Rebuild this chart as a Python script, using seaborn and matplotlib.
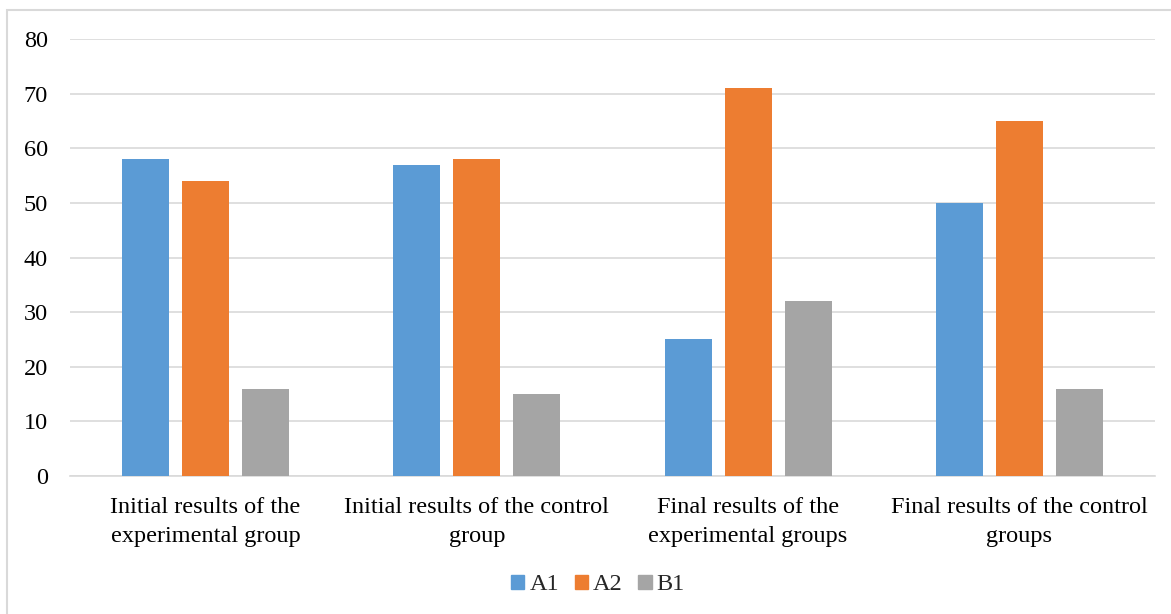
import matplotlib
matplotlib.use("Agg")
import matplotlib.pyplot as plt
import seaborn as sns
import pandas as pd
from matplotlib.patches import Rectangle

categories = [
    "Initial results of the\nexperimental group",
    "Initial results of the control\ngroup",
    "Final results of the\nexperimental groups",
    "Final results of the control\ngroups",
]
series = ["A1", "A2", "B1"]
a1 = [58, 57, 25, 50]
a2 = [54, 58, 71, 65]
b1 = [16, 15, 32, 16]
yticks = [0, 10, 20, 30, 40, 50, 60, 70, 80]

df = pd.DataFrame({
    "category": categories * 3,
    "series": [s for s in series for _ in categories],
    "value": a1 + a2 + b1,
})

sns.set_theme(style="white")
plt.rcParams["font.family"] = ["Liberation Serif", "DejaVu Serif"]

W, H = 1171, 614
fig = plt.figure(figsize=(W / 100, H / 100), dpi=100)
ax = fig.add_axes([70 / W, 1 - 476 / H, (1155 - 70) / W, (476 - 39) / H])

palette = {"A1": "#5B9BD5", "A2": "#ED7D31", "B1": "#A5A5A5"}
sns.barplot(data=df, x="category", y="value", hue="series", hue_order=series,
            palette=palette, width=0.664, gap=0.22, saturation=1, linewidth=0,
            order=categories, ax=ax, legend=False, zorder=3)

ax.set_ylim(0, 80)
ax.set_yticks(yticks)
ax.set_yticklabels([str(t) for t in yticks])
ax.set_xlim(-0.5, len(categories) - 0.5)
ax.grid(axis="y", color="#D9D9D9", linewidth=1.2, zorder=0)
ax.grid(axis="x", visible=False)
for side in ["left", "right", "top"]:
    ax.spines[side].set_visible(False)
ax.spines["bottom"].set_color("#D9D9D9")
ax.spines["bottom"].set_linewidth(1.2)
ax.tick_params(axis="both", length=0, labelsize=17.5, colors="black")
ax.tick_params(axis="y", pad=16)
ax.tick_params(axis="x", pad=15)
for lbl in ax.get_xticklabels():
    lbl.set_linespacing(1.52)
ax.set_xlabel("")
ax.set_ylabel("")

handles = [Rectangle((0, 0), 1, 1, color=palette[s]) for s in series]
fig.legend(handles, series, loc="center", bbox_to_anchor=(598 / W, 1 - 585 / H),
           ncol=3, frameon=False, fontsize=17.5, handlelength=0.55, handleheight=0.55,
           handletextpad=0.2, columnspacing=0.65)

fig.add_artist(Rectangle((7 / W, -0.01), 1.0, 1 - 10 / H + 0.01, transform=fig.transFigure,
                         fill=False, edgecolor="#D9D9D9", linewidth=1.5))

fig.savefig("out.png", dpi=100, facecolor="white")
